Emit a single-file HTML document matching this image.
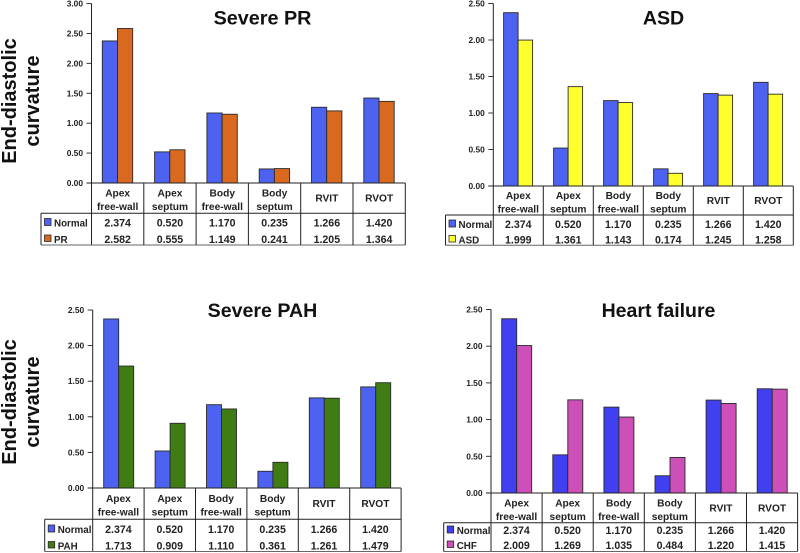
<!DOCTYPE html>
<html lang="en">
<head>
<meta charset="utf-8">
<title>End-diastolic curvature by region</title>
<style>
html,body{margin:0;padding:0;background:#fff;}
svg{display:block;font-family:"Liberation Sans",sans-serif;}
.blur{filter:blur(0.35px);}
</style>
</head>
<body>
<svg id="chart" xmlns="http://www.w3.org/2000/svg" width="800" height="553" viewBox="0 0 800 553">
<g class="blur" font-weight="700" font-size="20" fill="#111" text-anchor="middle">
<text transform="translate(16,101) rotate(-90)">End-diastolic</text>
<text transform="translate(39,101) rotate(-90)">curvature</text>
</g>
<g class="blur" font-weight="700" font-size="20" fill="#111" text-anchor="middle">
<text transform="translate(16,402) rotate(-90)">End-diastolic</text>
<text transform="translate(39,402) rotate(-90)">curvature</text>
</g>
</svg>
<script>
const categoryLines = [["Apex","free-wall"],["Apex","septum"],["Body","free-wall"],["Body","septum"],["RVIT"],["RVOT"]];
const normalValues = [2.374,0.520,1.170,0.235,1.266,1.420];
const prValues = [2.582,0.555,1.149,0.241,1.205,1.364];
const asdValues = [1.999,1.361,1.143,0.174,1.245,1.258];
const pahValues = [1.713,0.909,1.110,0.361,1.261,1.479];
const chfValues = [2.009,1.269,1.035,0.484,1.220,1.415];
const prTicks = [0,0.5,1,1.5,2,2.5,3];
const otherTicks = [0,0.5,1,1.5,2,2.5];

const panels = [
  {id:"severe-pr",title:"Severe PR",label:"PR",values:prValues,ticks:prTicks,color:"#d9691f",blue:"#4d62f0",
   axisX:91.5,catW:52.3,y0:183,top:3.5,tableX:41,rowTop:213.3,bottom:245,base1:226.5,base2:243,barOff:10.8,barW:15.2,
   titleX:262.5,titleY:24.5,titleSize:19.8},
  {id:"asd",title:"ASD",label:"ASD",values:asdValues,ticks:otherTicks,color:"#ffff2e",blue:"#4d62f0",
   axisX:493.3,catW:50,y0:186,top:3.5,tableX:445.5,rowTop:215,bottom:245.3,base1:228,base2:243.5,barOff:10.3,barW:14.5,
   titleX:663.5,titleY:24.5,titleSize:19.6},
  {id:"severe-pah",title:"Severe PAH",label:"PAH",values:pahValues,ticks:otherTicks,color:"#3f7c14",blue:"#4d62f0",
   axisX:92.7,catW:51.4,y0:488,top:310,tableX:44.7,rowTop:519.3,bottom:551.5,base1:533,base2:549.5,barOff:11,barW:15,
   titleX:262.5,titleY:317,titleSize:19.6},
  {id:"heart-failure",title:"Heart failure",label:"CHF",values:chfValues,ticks:otherTicks,color:"#cc50b8",blue:"#4040f0",
   axisX:491,catW:51.1,y0:493,top:309.5,tableX:443.7,rowTop:522.7,bottom:551.5,base1:534,base2:549,barOff:10.7,barW:15,
   titleX:658.5,titleY:317,titleSize:19.5}
];

const svg = document.getElementById("chart");
const NS = "http://www.w3.org/2000/svg";

function make(tag, parent, attrs, text) {
  const el = document.createElementNS(NS, tag);
  for (const k in attrs) el.setAttribute(k, attrs[k]);
  if (text !== undefined) el.textContent = text;
  parent.appendChild(el);
  return el;
}

function drawPanel(p) {
  const maxV = p.ticks[p.ticks.length - 1];
  const yScale = v => p.y0 - (v / maxV) * (p.y0 - p.top);
  const xCat = i => p.axisX + i * p.catW;
  const right = xCat(categoryLines.length);
  const ink = "#222";

  const g = make("g", svg, {class:"blur"});
  
  

  const title = make("text", g, {x:p.titleX, y:p.titleY, "text-anchor":"middle", "font-weight":700, "font-size":p.titleSize, fill:"#111"}, p.title);
  
  

  p.ticks.forEach(t => {
    const mark = make("line", g, {x1:p.axisX-5, x2:p.axisX, y1:yScale(t), y2:yScale(t), stroke:ink, "stroke-width":0.9});
    
    
    const lab = make("text", g, {x:p.axisX-8.5, y:yScale(t)+3, "text-anchor":"end", "font-weight":700, "font-size":8.4, fill:ink}, t.toFixed(2));
    
    
  });

  categoryLines.forEach((lines, i) => {
    const x = xCat(i) + p.barOff;
    const a = make("rect", g, {x:x, y:yScale(normalValues[i]), width:p.barW, height:p.y0-yScale(normalValues[i]), fill:p.blue, stroke:"#2a2a2a", "stroke-width":0.9});
    
    
    const b = make("rect", g, {x:x+p.barW, y:yScale(p.values[i]), width:p.barW, height:p.y0-yScale(p.values[i]), fill:p.color, stroke:"#2a2a2a", "stroke-width":0.9});
    
    
  });

  const axis = make("line", g, {x1:p.axisX, x2:p.axisX, y1:p.top, y2:p.bottom, stroke:ink, "stroke-width":1});
  
  
  const base = make("line", g, {x1:p.axisX-5, x2:right, y1:p.y0, y2:p.y0, stroke:ink, "stroke-width":1});
  
  
  const rowLine = make("line", g, {x1:p.tableX, x2:right, y1:p.rowTop, y2:p.rowTop, stroke:ink, "stroke-width":1});
  
  
  const botLine = make("line", g, {x1:p.tableX, x2:right, y1:p.bottom, y2:p.bottom, stroke:"#666", "stroke-width":1});
  
  
  const leftLine = make("line", g, {x1:p.tableX, x2:p.tableX, y1:p.rowTop, y2:p.bottom, stroke:ink, "stroke-width":1});
  
  

  categoryLines.forEach((lines, i) => {
    const sep = make("line", g, {x1:xCat(i+1), x2:xCat(i+1), y1:p.y0, y2:p.bottom, stroke:ink, "stroke-width":1});
    
    
    const cx = xCat(i) + p.catW / 2;
    const h = p.rowTop - p.y0;
    lines.forEach((line, j) => {
      const ty = lines.length === 2 ? p.y0 + h/2 - 1.5 + j * 13.5 : p.y0 + h/2 + 3.5;
      const cat = make("text", g, {x:cx, y:ty, "text-anchor":"middle", "font-weight":700, "font-size":10.2, fill:ink}, line);
      
      
    });
    const v1 = make("text", g, {x:cx, y:p.base1, "text-anchor":"middle", "font-weight":700, "font-size":10.6, fill:ink}, normalValues[i].toFixed(3));
    
    
    const v2 = make("text", g, {x:cx, y:p.base2, "text-anchor":"middle", "font-weight":700, "font-size":10.6, fill:ink}, p.values[i].toFixed(3));
    
    
  });

  const sw1 = make("rect", g, {x:p.tableX+3.5, y:p.base1-8, width:6.5, height:7, fill:p.blue, stroke:"#2a2a2a", "stroke-width":0.8});
  
  
  const lt1 = make("text", g, {x:p.tableX+13, y:p.base1, "font-weight":700, "font-size":9.8, fill:ink}, "Normal");
  
  
  const sw2 = make("rect", g, {x:p.tableX+3.5, y:p.base2-8, width:6.5, height:6.5, fill:p.color, stroke:"#2a2a2a", "stroke-width":0.8});
  
  
  const lt2 = make("text", g, {x:p.tableX+13, y:p.base2, "font-weight":700, "font-size":9.8, fill:ink}, p.label);
  
  
}

panels.forEach(drawPanel);
</script>
</body>
</html>
